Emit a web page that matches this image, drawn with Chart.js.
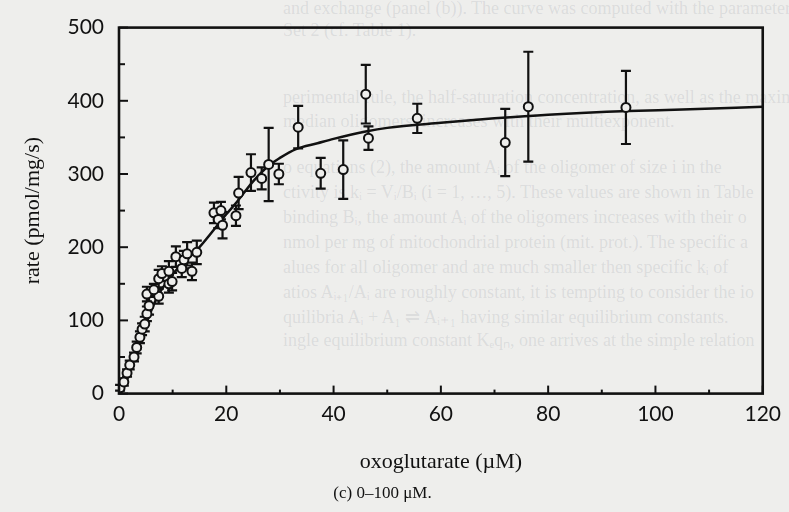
<!DOCTYPE html>
<html>
<head>
<meta charset="utf-8">
<script src="https://cdn.jsdelivr.net/npm/chart.js@4.4.0/dist/chart.umd.min.js"></script>
<style>
  html, body { margin: 0; padding: 0; width: 789px; height: 512px; overflow: hidden; background: #eeeeec; }
  #bg { position: absolute; left: 0; top: 0; width: 789px; height: 512px; overflow: hidden;
        font-family: "Liberation Serif", serif; font-size: 18px; color: rgba(95,105,120,0.14); }
  #bg div { position: absolute; white-space: nowrap; line-height: 20px; }
  #wrap { position: absolute; left: 0; top: 0; width: 789px; height: 512px; }
</style>
</head>
<body>
<div id="bg">
  <div style="left:283px; top:-2px;">and exchange (panel (b)). The curve was computed with the parameters of</div>
  <div style="left:283px; top:20px;">Set 2 (cf. Table 1).</div>
  <div style="left:283px; top:87px;">perimental rule, the half-saturation concentration, as well as the maxima</div>
  <div style="left:283px; top:111px;">median oligomers, increases with their multiexponent.</div>
  <div style="left:283px; top:157px;">o equations (2), the amount Aᵢ of the oligomer of size i in the</div>
  <div style="left:283px; top:182px;">ctivity is kᵢ = Vᵢ/Bᵢ (i = 1, …, 5). These values are shown in Table</div>
  <div style="left:283px; top:207px;">binding Bᵢ, the amount Aᵢ of the oligomers increases with their o</div>
  <div style="left:283px; top:232px;">nmol per mg of mitochondrial protein (mit. prot.). The specific a</div>
  <div style="left:283px; top:257px;">alues for all oligomer and are much smaller then specific kᵢ of</div>
  <div style="left:283px; top:282px;">atios Aᵢ₊₁/Aᵢ are roughly constant, it is tempting to consider the io</div>
  <div style="left:283px; top:307px;">quilibria Aᵢ + A₁ ⇌ Aᵢ₊₁ having similar equilibrium constants.</div>
  <div style="left:283px; top:330px;">ingle equilibrium constant Kₑqₙ, one arrives at the simple relation</div>
</div>
<div id="wrap"><canvas id="c" width="789" height="512"></canvas></div>
<script>
// ---- data ----
const xVals = [0.2, 0.9, 1.5, 2.0, 2.8, 3.3, 3.9, 4.3, 4.8, 5.2, 5.6, 5.2, 7.4, 6.5, 9.3, 7.4, 8.0, 9.3, 9.9, 11.7,
               13.6, 10.6, 12.1, 12.7, 14.5, 17.7, 19.0, 18.5, 21.8, 19.3, 22.3, 24.6, 26.6, 27.9, 29.8, 33.4, 37.6, 41.8,
               46.0, 46.5, 55.6, 72.0, 76.3, 94.5];
const yVals = [8, 16, 28, 39, 50, 63, 77, 88, 95, 109, 120, 136, 133, 142, 150, 157, 164, 167, 153, 171,
               167, 187, 183, 191, 193, 247, 250, 238, 243, 230, 274, 302, 294, 313, 300, 364, 301, 306,
               409, 349, 376, 343, 392, 391];
const yErr  = [4, 5, 5, 6, 6, 8, 8, 8, 10, 10, 12, 10, 10, 8, 12, 12, 10, 14, 12, 12,
               12, 14, 12, 16, 16, 14, 12, 12, 14, 18, 22, 25, 15, 50, 14, 29, 21, 40,
               40, 16, 20, 46, 75, 50];
const curveX = [0, 3, 7, 10, 15, 20, 22, 25, 28, 30, 33, 37, 40, 46, 50, 60, 70, 80, 95, 105, 120];
const curveY = [0, 55, 130, 163, 200, 245, 262, 290, 312, 322, 334, 342, 348, 358, 363, 370, 376, 381, 386, 388, 392];
const xTickLabels = [0, 20, 40, 60, 80, 100, 120];
const yTickLabels = [0, 100, 200, 300, 400, 500];

const BG = '#eeeeec';
const INK = '#111111';

const frame = {
  id: 'frame',
  beforeDatasetsDraw(chart) {
    const ctx = chart.ctx, x = chart.scales.x, y = chart.scales.y;
    const ds = chart.data.datasets[1];
    ctx.save();
    ctx.strokeStyle = INK; ctx.lineWidth = 2.2; ctx.lineCap = 'butt';
    ds.data.forEach((p, i) => {
      const px = x.getPixelForValue(p.x);
      const top = y.getPixelForValue(p.y + yErr[i]);
      const bot = y.getPixelForValue(p.y - yErr[i]);
      ctx.beginPath();
      ctx.moveTo(px, top); ctx.lineTo(px, bot);
      ctx.moveTo(px - 5, top); ctx.lineTo(px + 5, top);
      ctx.moveTo(px - 5, bot); ctx.lineTo(px + 5, bot);
      ctx.stroke();
    });
    ctx.restore();
  },
  afterDraw(chart) {
    const ctx = chart.ctx, a = chart.chartArea, x = chart.scales.x, y = chart.scales.y;
    ctx.save();
    ctx.strokeStyle = INK;
    ctx.lineWidth = 2.6;
    ctx.strokeRect(a.left, a.top, a.right - a.left, a.bottom - a.top);
    ctx.lineWidth = 2;
    x.ticks.forEach(t => {
      const px = x.getPixelForValue(t.value);
      const len = xTickLabels.includes(t.value) ? 8 : 4;
      ctx.beginPath(); ctx.moveTo(px, a.bottom); ctx.lineTo(px, a.bottom - len); ctx.stroke();
    });
    y.ticks.forEach(t => {
      const py = y.getPixelForValue(t.value);
      const len = yTickLabels.includes(t.value) ? 9 : 6;
      ctx.beginPath(); ctx.moveTo(a.left, py); ctx.lineTo(a.left + len, py); ctx.stroke();
    });
    ctx.restore();
  }
};

new Chart(document.getElementById('c'), {
  data: {
    datasets: [
      {
        type: 'line',
        data: curveX.map((v, i) => ({ x: v, y: curveY[i] })),
        borderColor: INK, borderWidth: 2.5, pointRadius: 0,
        cubicInterpolationMode: 'monotone', fill: false, order: 2
      },
      {
        type: 'scatter',
        data: xVals.map((v, i) => ({ x: v, y: yVals[i] })),
        pointRadius: 4.5, pointBorderWidth: 2, pointBorderColor: INK,
        pointBackgroundColor: BG, order: 1
      }
    ]
  },
  options: {
    responsive: false, animation: false,
    layout: { padding: { top: 22, right: 24, left: 0, bottom: 0 } },
    plugins: {
      legend: { display: false }, tooltip: { enabled: false },
      title: {
        display: true, position: 'bottom', text: '(c) 0–100 μM.',
        color: INK, font: { family: '"Liberation Serif", serif', size: 17, weight: 'normal' },
        padding: { top: 6, bottom: 8 }
      }
    },
    scales: {
      x: {
        type: 'linear', min: 0, max: 120,
        border: { display: false },
        grid: { display: false, drawTicks: false },
        ticks: {
          stepSize: 10, autoSkip: false, maxRotation: 0, padding: 8, color: INK,
          font: { family: 'Lato', size: 21 },
          callback: v => xTickLabels.includes(v) ? String(v) : ''
        },
        title: {
          display: true, text: 'oxoglutarate (µM)', color: INK,
          font: { family: '"Liberation Serif", serif', size: 22 },
          padding: { top: 0, bottom: 2 }
        },
        afterFit: s => { s.height = 84; }
      },
      y: {
        type: 'linear', min: 0, max: 500,
        border: { display: false },
        grid: { display: false, drawTicks: false },
        ticks: {
          stepSize: 50, autoSkip: false, padding: 15, color: INK,
          font: { family: 'Lato', size: 21 },
          callback: v => yTickLabels.includes(v) ? String(v) : ''
        },
        title: {
          display: true, text: 'rate (pmol/mg/s)', color: INK,
          font: { family: '"Liberation Serif", serif', size: 22 },
          padding: { top: 20, bottom: 0 }
        },
        afterFit: s => { s.width = 119; }
      }
    }
  },
  plugins: [frame]
});
</script>
</body>
</html>
